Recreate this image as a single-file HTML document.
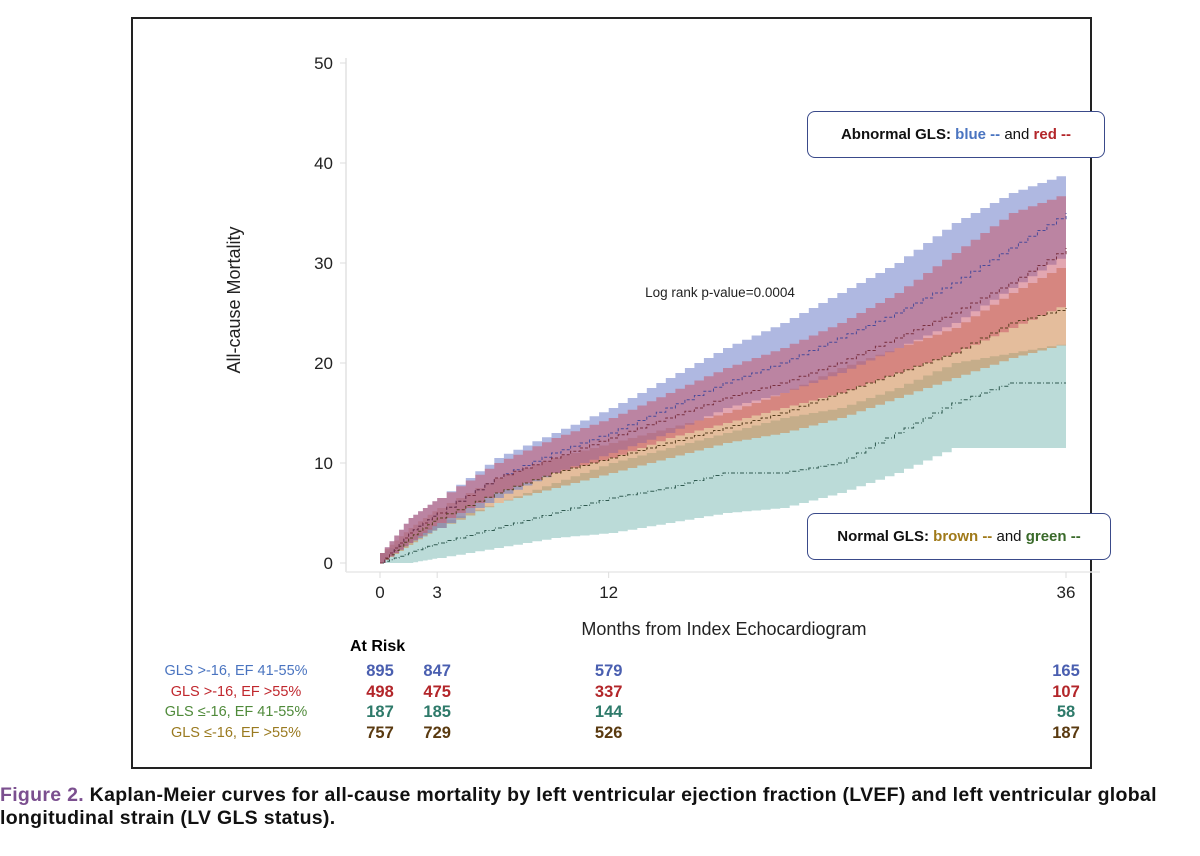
<!DOCTYPE html>
<html><head><meta charset="utf-8"><style>
body{margin:0;background:#fff;width:1200px;height:856px;overflow:hidden;font-family:"Liberation Sans",sans-serif}
.frame{position:absolute;left:131px;top:17px;width:957px;height:748px;border:2px solid #222}
.t{position:absolute;white-space:nowrap}
.box{position:absolute;border:1.5px solid #3a4a8a;border-radius:8px;background:#fff;font-weight:bold;font-size:15px;display:flex;align-items:center;justify-content:center}
.cap{position:absolute;left:0;font-weight:bold;font-size:19.5px;color:#111;letter-spacing:0.3px}
</style></head><body>
<div class="frame"></div>
<svg id="chart" width="1200" height="856" style="position:absolute;left:0;top:0">
<line x1="346" y1="58" x2="346" y2="572" stroke="#e2e2e2" stroke-width="1.5"/>
<line x1="346" y1="572" x2="1100" y2="572" stroke="#e8e8e8" stroke-width="1.5"/>
<g id="ticks"></g><g id="bands"></g><g id="lines"></g>
<text x="240" y="300" transform="rotate(-90 240 300)" text-anchor="middle" font-size="18" fill="#222">All-cause Mortality</text>
<text x="724" y="635" text-anchor="middle" font-size="18" fill="#222">Months from Index Echocardiogram</text>
<text x="720" y="297" text-anchor="middle" font-size="13.5" fill="#222">Log rank p-value=0.0004</text>
</svg>
<div class="box" style="left:807px;top:111px;width:296px;height:45px"><span style="color:#111">Abnormal GLS</span>:&nbsp;<span style="color:#4a74c0">blue --</span>&nbsp;<span style="color:#111;font-weight:normal">and</span>&nbsp;<span style="color:#b3262a">red --</span></div>
<div class="box" style="left:807px;top:513px;width:302px;height:45px"><span style="color:#111">Normal GLS</span>:&nbsp;<span style="color:#a07a1a">brown --</span>&nbsp;<span style="color:#111;font-weight:normal">and</span>&nbsp;<span style="color:#3a6a2a">green --</span></div>
<div class="t" style="left:350px;top:638px;font-weight:bold;font-size:16px">At Risk</div>
<div id="risk"></div>
<div class="cap" style="top:784px"><span style="color:#7b4f8f">Figure 2.</span> Kaplan-Meier curves for all-cause mortality by left ventricular ejection fraction (LVEF) and left ventricular global</div>
<div class="cap" style="top:807px">longitudinal strain (LV GLS status).</div>
<script>
const yTicks=[0,10,20,30,40,50];
const xTicks=[0,3,12,36];
const months=[0,1.5,3,6,9,12,15,18,21,24,27,30,33,36];
const blueEst=[0,3,5,8.5,11,13,15.5,18,20,22.5,25,28,31.5,35];
const blueLo=[0,2,3.5,6.5,9,11,13,15.5,17,19,21.5,24,27.5,31];
const blueHi=[1,4.5,6.5,10.5,13,15.5,18.5,21.5,24,27,30,34,37,39];
const redEst=[0,3,5,8.5,10.5,12.5,14.5,16.5,18,20,22.5,25,28,31.5];
const redLo=[0,2,4,7,9,10.5,12.5,14,15.5,17,19,21,23.5,26];
const redHi=[1,4.5,6.5,10,12.5,14.5,17,19.5,21.5,24,27,31,35,37];
const brownEst=[0,2.5,4.5,7,9,10.5,12,13.5,15,17,19,21,24,25.5];
const brownLo=[0,1.8,3.5,6,7.5,9,10.5,12,13,14.5,16.5,18.5,20.5,22];
const brownHi=[1,3.5,5.5,8.5,10.5,12,13.5,15,17,19.5,21.5,23.5,27,30];
const greenEst=[0,1,2,3.5,5,6.5,7.5,9,9,10,13,16,18,18];
const greenLo=[0,0,0.5,1.5,2.5,3,4,5,5.5,7,9,11.5,11.5,11.5];
const greenHi=[1,2.5,4,6,8,10,11.5,13,14.5,15.5,17.5,20,21,22];
const riskLabels=["GLS >-16, EF 41-55%","GLS >-16, EF >55%","GLS \u2264-16, EF 41-55%","GLS \u2264-16, EF >55%"];
const risk0=[895,498,187,757];
const risk3=[847,475,185,729];
const risk12=[579,337,144,526];
const risk36=[165,107,58,187];
const riskMonths=[0,3,12,36];

const X=m=>380+m*(686/36);
const Y=v=>563-v*10;
const NS="http://www.w3.org/2000/svg";
function mk(tag,attrs,parent){const e=document.createElementNS(NS,tag);for(const k in attrs)e.setAttribute(k,attrs[k]);parent.appendChild(e);return e;}
const ticks=document.getElementById('ticks');
yTicks.forEach(v=>{
 const l=mk('line',{x1:340,x2:346,y1:Y(v),y2:Y(v),stroke:'#ddd'},ticks);
 
 
 const t=mk('text',{x:333,y:Y(v)+6,'text-anchor':'end','font-size':17,fill:'#222'},ticks);t.textContent=v;
 
 
});
xTicks.forEach(m=>{
 const l=mk('line',{x1:X(m),x2:X(m),y1:572,y2:578,stroke:'#ddd'},ticks);
 
 
 const t=mk('text',{x:X(m),y:598,'text-anchor':'middle','font-size':17,fill:'#222'},ticks);t.textContent=m;
 
 
});
function smoothStep(vals){
 let pts=[[X(months[0]),Y(vals[0])]];
 for(let i=1;i<months.length;i++){const n=6;for(let k=1;k<=n;k++){const m=months[i-1]+(months[i]-months[i-1])*k/n;const v=vals[i-1]+(vals[i]-vals[i-1])*(k-1)/n;const vn=vals[i-1]+(vals[i]-vals[i-1])*k/n;pts.push([X(m),Y(v)]);pts.push([X(m),Y(vn)]);}}
 return pts;}
const bands=document.getElementById('bands'),lines=document.getElementById('lines');
const series=[
 ['green',greenLo,greenHi,greenEst,'rgba(105,175,168,0.45)','#2f5a50'],
 ['brown',brownLo,brownHi,brownEst,'rgba(205,135,75,0.55)','#5a4020'],
 ['blue',blueLo,blueHi,blueEst,'rgba(110,125,200,0.55)','#4a4a9a'],
 ['red',redLo,redHi,redEst,'rgba(200,80,100,0.5)','#7a3040']];
series.forEach(([nm,lo,hi,est,fill,lc])=>{
 const up=smoothStep(hi),dn=smoothStep(lo).reverse();
 const d='M'+up.concat(dn).map(p=>p[0].toFixed(1)+','+p[1].toFixed(1)).join('L')+'Z';
 const b=mk('path',{d:d,fill:fill},bands);
 
 
 const e=smoothStep(est);
 const l=mk('path',{d:'M'+e.map(p=>p[0].toFixed(1)+','+p[1].toFixed(1)).join('L'),fill:'none',stroke:lc,'stroke-width':1,'stroke-dasharray':nm==='green'?'4,2,1,2':'3,2'},lines);
 
 
});
const risk=document.getElementById('risk');
const colors=['#4a5fb0','#b3262a','#2e7a6a','#5a3a10'];
const labColors=['#4a74c0','#c0272d','#4f8a3a','#9a7a20'];
const cols=[risk0,risk3,risk12,risk36];
riskLabels.forEach((lab,i)=>{
 const top=663+i*20.5;
 const d=document.createElement('div');d.className='t';
 
 
 d.style.cssText=`left:130px;width:212px;text-align:center;top:${top}px;font-size:14.5px;color:${labColors[i]}`;
 d.textContent=lab;risk.appendChild(d);
 cols.forEach((c,j)=>{const n=document.createElement('div');n.className='t';
  
  
  n.style.cssText=`left:${X(riskMonths[j])-30}px;width:60px;text-align:center;top:${top-1}px;font-size:16.5px;font-weight:bold;color:${colors[i]}`;
  n.textContent=c[i];risk.appendChild(n);});
});
</script>
</body></html>
